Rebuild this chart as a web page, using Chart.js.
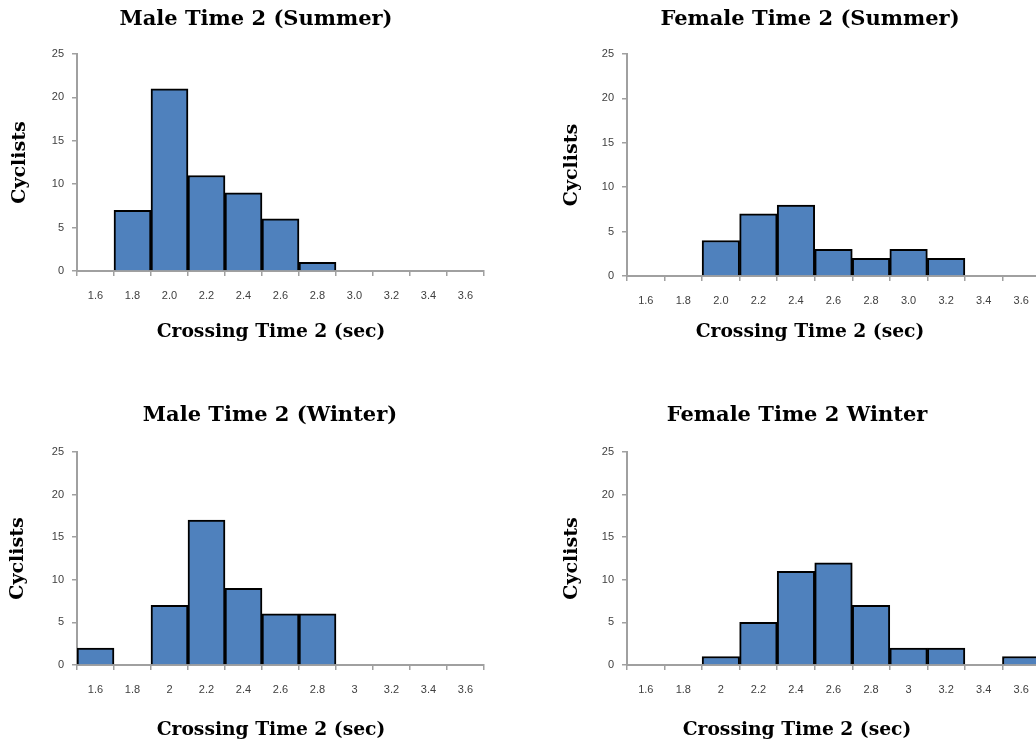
<!DOCTYPE html>
<html>
<head>
<meta charset="utf-8">
<script src="https://cdn.jsdelivr.net/npm/chart.js@4"></script>
<style>
  html, body { margin: 0; padding: 0; background: #fff; overflow: hidden; width: 1036px; height: 746px; }
  .box { position: absolute; }
</style>
</head>
<body>
<div class="box" id="b1" style="left:0px;top:0px;width:520px;height:380px"><canvas id="c1"></canvas></div>
<div class="box" id="b2" style="left:540px;top:0px;width:520px;height:380px"><canvas id="c2"></canvas></div>
<div class="box" id="b3" style="left:0px;top:385px;width:520px;height:361px"><canvas id="c3"></canvas></div>
<div class="box" id="b4" style="left:540px;top:385px;width:520px;height:361px"><canvas id="c4"></canvas></div>
<script>
// Bin labels (seconds)
var summerLabels = ["1.6", "1.8", "2.0", "2.2", "2.4", "2.6", "2.8", "3.0", "3.2", "3.4", "3.6"];
var winterLabels = ["1.6", "1.8", "2", "2.2", "2.4", "2.6", "2.8", "3", "3.2", "3.4", "3.6"];

// Cyclist counts per bin
var maleSummer = [0, 7, 21, 11, 9, 6, 1, 0, 0, 0, 0];
var femaleSummer = [0, 0, 4, 7, 8, 3, 2, 3, 2, 0, 0];
var maleWinter = [2, 0, 7, 17, 9, 6, 6, 0, 0, 0, 0];
var femaleWinter = [0, 0, 1, 5, 11, 12, 7, 2, 2, 0, 1];

var yTicks = [0, 5, 10, 15, 20, 25];

var axisColor = "#a0a0a0";
var serif = "'DejaVu Serif', serif";
var sans = "'Liberation Sans', Arial, sans-serif";

// draws the heading and x-axis caption at fixed centres
function captionPlugin(c) {
  return {
    id: "captions",
    afterDraw: function (chart) {
      var ctx = chart.ctx;
      ctx.save();
      ctx.fillStyle = "#000";
      ctx.textAlign = "center";
      ctx.textBaseline = "middle";
      ctx.font = "bold 21px " + serif;
      ctx.fillText(c.title, c.titleX, c.titleY);
      ctx.font = "bold 18.7px " + serif;
      ctx.fillText(c.xTitle, c.xTitleX, c.xTitleY);
      ctx.restore();
    },
  };
}

function makeHist(id, g, title, labels, values) {
  var ctx = document.getElementById(id).getContext("2d");
  var captions = {
    title: title,
    titleX: g.titleX - g.left,
    titleY: g.titleY - g.top,
    xTitle: "Crossing Time 2 (sec)",
    xTitleX: g.xTitleX - g.left,
    xTitleY: g.xTitleY - g.top,
  };
  return new Chart(ctx, {
    type: "bar",
    data: {
      labels: labels,
      datasets: [
        {
          label: title,
          data: values,
          backgroundColor: "#4f81bd",
          borderColor: "#000",
          borderWidth: 2,
          barPercentage: 1,
          categoryPercentage: 1,
        },
      ],
    },
    options: {
      responsive: true,
      maintainAspectRatio: false,
      animation: false,
      layout: {
        padding: { top: g.plotTop - g.top, right: g.left + g.width - g.plotRight, bottom: 0, left: 0 },
      },
      plugins: {
        legend: { display: false },
        tooltip: { enabled: false },
      },
      scales: {
        x: {
          grid: { display: true, drawOnChartArea: false, offset: true, color: axisColor, tickLength: 5, lineWidth: 1.5 },
          border: { display: true, color: axisColor, width: 2 },
          ticks: { color: "#404040", font: { family: sans, size: 11 }, padding: 13, maxRotation: 0, autoSkip: false },
          afterFit: function (scale) { scale.height = g.top + g.height - g.plotBottom; },
        },
        y: {
          min: 0,
          max: 25,
          afterBuildTicks: function (scale) { scale.ticks = yTicks.map(function (v) { return { value: v }; }); },
          grid: { display: true, drawOnChartArea: false, color: axisColor, tickLength: 5, lineWidth: 1.5 },
          border: { display: true, color: axisColor, width: 2 },
          ticks: { color: "#404040", font: { family: sans, size: 11 }, padding: 8 },
          title: {
            display: true,
            text: "Cyclists",
            color: "#000",
            font: { family: serif, size: 19, weight: "bold" },
            padding: { top: g.yTitleX - g.left - 11, bottom: 0 },
          },
          afterFit: function (scale) { scale.width = g.plotLeft - g.left; },
        },
      },
    },
    plugins: [captionPlugin(captions)],
  });
}

makeHist("c1",
  { left: 0, top: 0, width: 520, height: 380, plotLeft: 77, plotTop: 54, plotRight: 484, plotBottom: 271,
    titleX: 256, titleY: 20, xTitleX: 271, xTitleY: 332, yTitleX: 20 },
  "Male Time 2 (Summer)", summerLabels, maleSummer);

makeHist("c2",
  { left: 540, top: 0, width: 520, height: 380, plotLeft: 627, plotTop: 54, plotRight: 1040, plotBottom: 276,
    titleX: 810, titleY: 20, xTitleX: 810, xTitleY: 332, yTitleX: 572 },
  "Female Time 2 (Summer)", summerLabels, femaleSummer);

makeHist("c3",
  { left: 0, top: 385, width: 520, height: 361, plotLeft: 77, plotTop: 452, plotRight: 484, plotBottom: 665,
    titleX: 270, titleY: 416, xTitleX: 271, xTitleY: 730, yTitleX: 18 },
  "Male Time 2 (Winter)", winterLabels, maleWinter);

makeHist("c4",
  { left: 540, top: 385, width: 520, height: 361, plotLeft: 627, plotTop: 452, plotRight: 1040, plotBottom: 665,
    titleX: 797, titleY: 416, xTitleX: 797, xTitleY: 730, yTitleX: 572 },
  "Female Time 2 Winter", winterLabels, femaleWinter);
</script>
</body>
</html>
